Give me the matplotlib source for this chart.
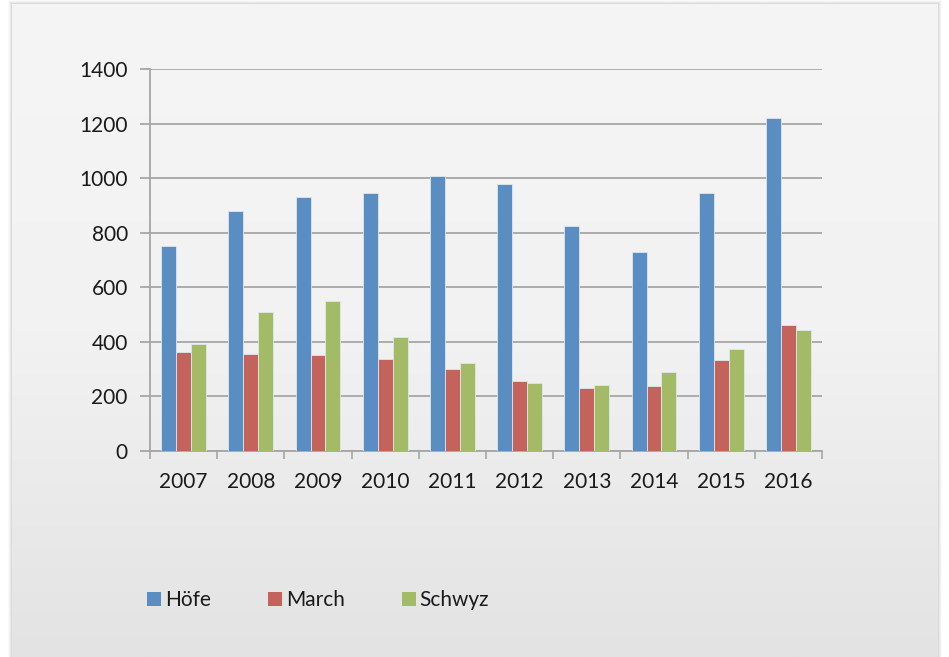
import numpy as np
import matplotlib
matplotlib.use("Agg")
import matplotlib.pyplot as plt
from matplotlib.colors import LinearSegmentedColormap
from matplotlib.patches import Rectangle

years = ["2007", "2008", "2009", "2010", "2011", "2012", "2013", "2014", "2015", "2016"]
hoefe = [750, 878, 930, 944, 1007, 980, 825, 729, 947, 1220]
march = [363, 354, 352, 337, 299, 258, 230, 238, 333, 460]
schwyz = [391, 510, 551, 419, 324, 248, 241, 291, 375, 443]

series = [("Höfe", hoefe, "#5A8EC3"),
          ("March", march, "#C4625C"),
          ("Schwyz", schwyz, "#A3BB66")]

plt.rcParams['font.family'] = ['Lato', 'DejaVu Sans']

W, H = 949, 657
fig = plt.figure(figsize=(W / 100, H / 100), dpi=100)
fig.patch.set_facecolor('white')

# panel shadow
for i, a in enumerate([0.05, 0.04, 0.03, 0.02]):
    d = i + 1
    fig.patches.append(Rectangle(((12 - d) / W, 0), (926 + 2 * d) / W, (653 + d) / H,
                                 transform=fig.transFigure, facecolor='black',
                                 alpha=a, edgecolor='none', zorder=-20))

# panel background gradient
bg = fig.add_axes([12 / W, 0, 926 / W, 653 / H], zorder=-10)
cmap = LinearSegmentedColormap.from_list('panel', ['#f5f5f5', '#f2f2f2', '#e3e3e3'])
bg.imshow(np.linspace(0, 1, 256).reshape(-1, 1), cmap=cmap, aspect='auto',
          extent=[0, 1, 0, 1])
bg.axis('off')

ax = fig.add_axes([150 / W, 1 - 451 / H, 672 / W, 382 / H])
ax.set_facecolor('none')

x = np.arange(len(years))
bw = 0.223
for i, (name, vals, col) in enumerate(series):
    ax.bar(x + (i - 1) * bw, vals, width=bw, color=col, edgecolor='#dfe6ee',
           linewidth=0.6, label=name, zorder=3)

ax.set_xlim(-0.5, len(years) - 0.5)
ax.set_ylim(0, 1400)
ax.set_yticks(range(0, 1401, 200))
ax.grid(axis='y', color='#a6a6a6', linewidth=1.3, zorder=0)
ax.set_axisbelow(True)

# x ticks at category boundaries, labels centered
ax.set_xticks(np.arange(-0.5, len(years), 1.0))
ax.set_xticklabels([])
ax.set_xticks(x, minor=True)
ax.set_xticklabels(years, minor=True)
ax.tick_params(axis='x', which='major', length=6, width=1.2, color='#a6a6a6')
ax.tick_params(axis='x', which='minor', length=0, pad=15, labelsize=15, labelcolor='#1a1a1a')
ax.tick_params(axis='y', length=7, width=1.3, color='#a6a6a6', pad=9,
               labelsize=15, labelcolor='#1a1a1a')

for s in ['top', 'right']:
    ax.spines[s].set_visible(False)
for s in ['left', 'bottom']:
    ax.spines[s].set_color('#a6a6a6')
    ax.spines[s].set_linewidth(1.3)

leg = ax.legend(loc='center left', bbox_to_anchor=(-0.032, -0.39), ncol=3,
                frameon=False, fontsize=15, handlelength=0.65, handleheight=0.65,
                handletextpad=0.2, columnspacing=2.75)
for t in leg.get_texts():
    t.set_color('#1a1a1a')
for h, (_, _, col) in zip(leg.legend_handles, series):
    h.set_edgecolor('none')

fig.savefig("out.png", dpi=100)
